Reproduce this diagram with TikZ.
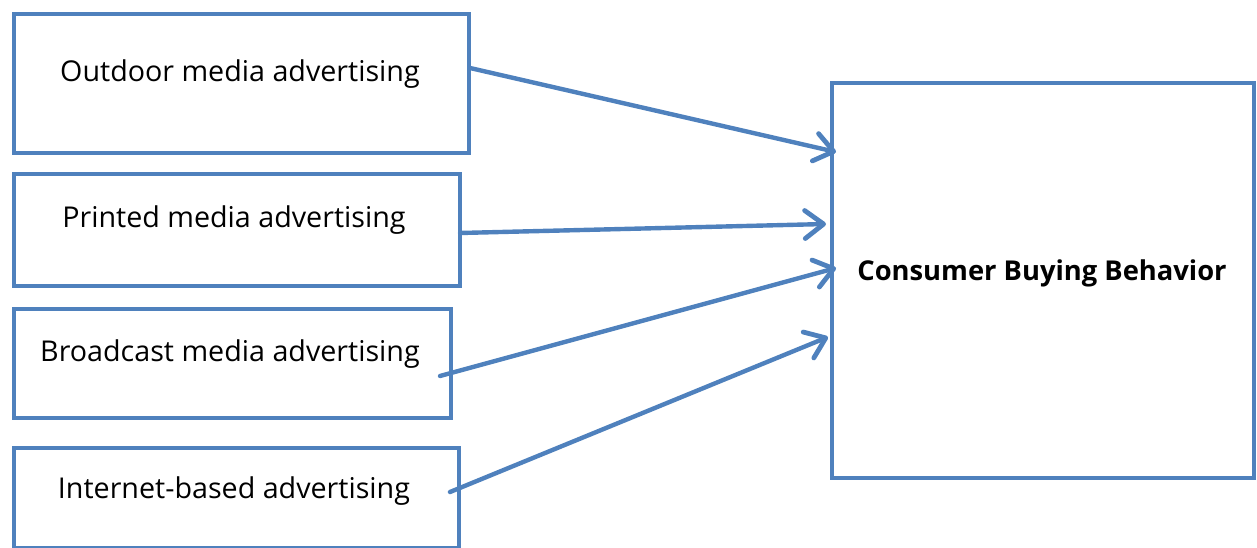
\documentclass[tikz,border=0pt]{standalone}
\usepackage{fontspec}
\setmainfont{Open Sans}
\usetikzlibrary{arrows.meta}
\definecolor{boxblue}{HTML}{4F81BD}
\begin{document}
\begin{tikzpicture}[x=0.75pt,y=-0.75pt,
  box/.style={draw=boxblue,line width=2.8pt,inner sep=0pt,anchor=north west},
  lbl/.style={font=\fontsize{21.5}{24}\selectfont,inner sep=0pt},
  conn/.style={draw=boxblue,line width=3.3pt,line cap=round,
    -{Straight Barb[length=14pt,width=21pt,line width=3.6pt,round]}}]
\useasboundingbox (0,0) rectangle (1257,548);
\node[box,minimum width=341.25pt,minimum height=104.25pt] (b1) at (12,12) {};
\node[box,minimum width=334.5pt,minimum height=84pt] (b2) at (12,172) {};
\node[box,minimum width=327.75pt,minimum height=81.75pt] (b3) at (12,307) {};
\node[box,minimum width=333.75pt,minimum height=75pt] (b4) at (12,446) {};
\node[box,minimum width=316.5pt,minimum height=296.25pt] (c) at (830,81) {};
\node[lbl] (t1) at (240,74) {Outdoor media advertising};
\node[lbl] (t2) at (234,220) {Printed media advertising};
\node[lbl] (t3) at (230,354) {Broadcast media advertising};
\node[lbl] (t4) at (234,491) {Internet-based advertising};
\node[lbl,font=\fontsize{20.5}{23}\selectfont\bfseries] (tc) at (1042,273) {Consumer Buying Behavior};
\coordinate (s1) at (470,68);
\coordinate (s2) at (460,233);
\coordinate (s3) at (440,376);
\coordinate (s4) at (450,492);
\coordinate (e1) at (836,152);
\coordinate (e2) at (826,224);
\coordinate (e3) at (836,268);
\coordinate (e4) at (828,337);
\draw[conn] (s1) -- (e1);
\draw[conn] (s2) -- (e2);
\draw[conn] (s3) -- (e3);
\draw[conn] (s4) -- (e4);
\end{tikzpicture}
\end{document}
